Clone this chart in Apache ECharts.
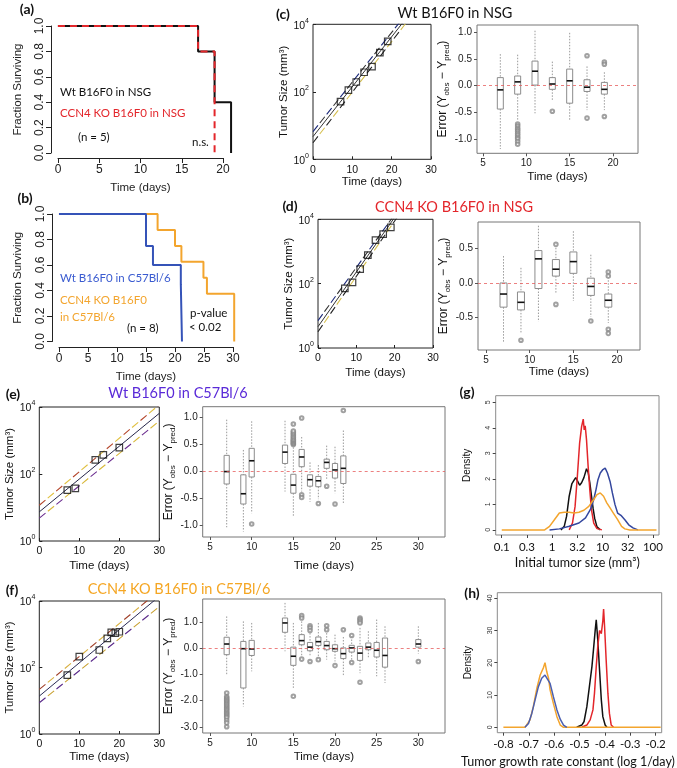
<!DOCTYPE html>
<html><head><meta charset="utf-8">
<script src="https://cdn.jsdelivr.net/npm/echarts@6/dist/echarts.min.js"></script>
<style>html,body{margin:0;padding:0;background:#fff}#c{width:677px;height:768px}</style>
</head><body><div id="c"></div>
<script>
// ================= DATA =================
// (a) Kaplan-Meier, NSG
const aWtTimes = [0, 17, 19, 21];
const aWtSurv  = [1, 0.8, 0.4, 0];
const aKoTimes = [0, 17, 19];
const aKoSurv  = [1, 0.8, 0];
// (b) Kaplan-Meier, C57Bl/6
const bWtTimes = [0, 15, 16.2, 21, 21.2];
const bWtSurv  = [1, 0.75, 0.6, 0.45, 0];
const bKoTimes = [0, 17, 20, 21.1, 24.9, 25.5, 30.2];
const bKoSurv  = [1, 0.875, 0.75, 0.625, 0.5, 0.375, 0];

// (c) Wt B16F0 in NSG: observed sizes (mm3) and fit lines [day, size]
const cDays = [7, 9, 11, 13, 15, 17, 19];
const cSize = [51, 112, 195, 380, 560, 1440, 3100];
const cFitMid = [[0, 4.7], [30, 129000]];
const cFitUp  = [[0, 6.6], [30, 170000]];
const cFitLo  = [[0, 3.1], [30, 98000]];
const cErrDays = [7, 9, 11, 13, 15, 17, 19];
const cErrLo  = [-1.19, -0.64, -0.52, -0.29, -0.66, -0.46, -0.46];
const cErrQ1  = [-0.44, -0.16, 0.01, -0.07, -0.33, -0.11, -0.16];
const cErrMed = [-0.08, 0.07, 0.27, 0.03, 0.09, -0.03, -0.07];
const cErrQ3  = [0.15, 0.18, 0.46, 0.15, 0.31, 0.11, 0.06];
const cErrHi  = [0.59, 0.58, 1.03, 0.45, 0.99, 0.36, 0.25];
const cOutDays = [9, 9, 9, 9, 9, 9, 9, 9, 9, 9, 9, 13, 17, 17, 19, 19, 19];
const cOutVals = [-0.72, -0.76, -0.8, -0.83, -0.86, -0.9, -0.93, -0.97, -1.0, -1.05, -1.1, -0.48, 0.56, -0.61, 0.44, 0.4, -0.58];

// (d) CCN4 KO B16F0 in NSG
const dDays = [7, 9, 11, 13, 15, 17, 19];
const dSize = [71, 110, 283, 770, 2250, 3470, 5600];
const dFitMid = [[0, 4.6], [30, 575000]];
const dFitUp  = [[0, 7.1], [30, 631000]];
const dFitLo  = [[0, 3.2], [30, 468000]];
const dErrDays = [7, 9, 11, 13, 15, 17, 19];
const dErrLo  = [-0.87, -0.72, -0.56, -0.14, -0.26, -0.49, -0.58];
const dErrQ1  = [-0.35, -0.39, -0.08, 0.10, 0.14, -0.18, -0.35];
const dErrMed = [-0.16, -0.28, 0.35, 0.20, 0.31, -0.05, -0.25];
const dErrQ3  = [0.0, -0.13, 0.47, 0.34, 0.45, 0.07, -0.16];
const dErrHi  = [0.39, 0.22, 0.83, 0.51, 0.75, 0.41, 0.04];
const dOutDays = [9, 13, 13, 17, 19, 19, 19, 19];
const dOutVals = [-0.83, 0.56, -0.31, -0.55, 0.16, 0.1, -0.67, -0.73];

// (e) Wt B16F0 in C57Bl/6
const eDays = [7, 9, 14, 16, 20];
const eSize = [33, 37, 263, 370, 615];
const eFitMid = [[0, 7.4], [30, 6460]];
const eFitUp  = [[0, 11.7], [30, 11700]];
const eFitLo  = [[0, 4.8], [30, 3800]];
const eErrDays = [7, 9, 10, 14, 15, 16, 17, 18, 19, 20, 21];
const eErrLo  = [-1.03, -1.11, -0.77, -0.37, -0.82, -0.37, -0.56, -0.51, -0.15, -0.40, -0.59];
const eErrQ1  = [-0.23, -0.60, -0.10, 0.15, -0.40, 0.09, -0.27, -0.28, 0.06, -0.12, -0.22];
const eErrMed = [0.0, -0.41, 0.20, 0.36, -0.25, 0.27, -0.15, -0.17, 0.17, 0.03, 0.06];
const eErrQ3  = [0.30, -0.06, 0.43, 0.49, -0.05, 0.41, -0.06, -0.09, 0.23, 0.15, 0.29];
const eErrHi  = [0.96, 0.40, 0.93, 0.94, 0.45, 0.64, 0.17, 0.12, 0.48, 0.46, 0.76];
const eOutDays = [10, 15, 15, 15, 15, 15, 15, 15, 15, 15, 15, 15, 15, 16, 16, 16, 18, 19, 20, 21];
const eOutVals = [-0.97, 0.5, 0.52, 0.54, 0.56, 0.58, 0.6, 0.63, 0.66, 0.69, 0.72, 0.75, 0.88, 0.99, -0.43, -0.48, -0.59, -0.27, -0.6, 1.13];

// (f) CCN4 KO B16F0 in C57Bl/6
const fDays = [7, 10, 15, 17, 18, 19, 20];
const fSize = [59, 211, 336, 755, 1140, 1070, 1190];
const fFitMid = [[0, 13.8], [30, 13800]];
const fFitUp  = [[0, 21.9], [30, 20400]];
const fFitLo  = [[0, 8.7], [30, 6760]];
const fErrDays = [7, 9, 10, 14, 15, 16, 17, 18, 19, 20, 21, 22, 23, 24, 25, 26, 30];
const fErrLo  = [-1.0, -2.22, -0.87, -0.10, -1.55, -0.29, -0.29, -0.29, -0.42, -0.49, -1.06, -0.42, -0.94, -0.36, -1.06, -1.32, -0.19];
const fErrQ1  = [-0.23, -1.51, -0.26, 0.63, -0.64, 0.15, -0.08, 0.12, -0.04, -0.10, -0.38, -0.13, -0.45, -0.04, -0.32, -0.71, 0.06];
const fErrMed = [0.18, 0.0, -0.01, 0.99, -0.29, 0.31, 0.06, 0.27, 0.12, 0.0, -0.19, 0.03, -0.17, 0.06, -0.06, -0.26, 0.18];
const fErrQ3  = [0.44, 0.28, 0.32, 1.18, 0.06, 0.54, 0.24, 0.45, 0.28, 0.15, 0.03, 0.13, 0.09, 0.22, 0.24, 0.41, 0.35];
const fErrHi  = [1.24, 1.05, 0.99, 1.76, 0.99, 1.05, 0.6, 0.99, 0.6, 0.54, 0.45, 0.47, 0.8, 0.67, 1.12, 0.86, 0.86];
const fOutDays = [7,7,7,7,7,7,7,7,7,7,7,7,7,7,7,7,7,7,7,7,7, 15, 16,16,16, 17,17,17,17, 18, 19,19, 20, 21, 22,22, 23,23,23,23,23, 30];
const fOutVals = [-1.7,-1.85,-1.9,-1.95,-2.0,-2.05,-2.1,-2.15,-2.2,-2.25,-2.3,-2.35,-2.4,-2.45,-2.5,-2.55,-2.6,-2.65,-2.75,-2.85,-3.0,
  -1.83, 1.27,1.18,-0.4, 0.88,0.8,0.7,-0.49, -0.42, 0.88,0.73, -0.65, 0.73, -0.53,0.51, 1.18,1.12,1.05,0.99,-1.29, -0.49];

// (g) initial tumor size densities (x = log10 mm3)
const gTickPos = [-1, -0.5, 0, 0.5, 1, 1.5, 2];
const gTickLabels = ['0.1', '0.3', '1', '3.2', '10', '32', '100'];
const gBlackX = [0.175, 0.24, 0.286, 0.338, 0.39, 0.435, 0.468, 0.5, 0.545, 0.584, 0.63, 0.682, 0.714, 0.747, 0.779, 0.812, 0.844, 0.89, 0.955];
const gBlackY = [0, 0.14, 0.53, 1.32, 1.8, 1.95, 2.05, 1.93, 1.75, 1.85, 2.05, 2.4, 2.25, 1.85, 1.35, 0.85, 0.45, 0.12, 0];
const gRedX = [0.338, 0.403, 0.455, 0.5, 0.545, 0.584, 0.617, 0.636, 0.656, 0.682, 0.714, 0.747, 0.779, 0.825, 0.89, 0.987];
const gRedY = [0, 0.27, 0.92, 2.1, 3.4, 4.05, 4.34, 3.92, 4.08, 3.53, 2.49, 1.58, 0.8, 0.27, 0.05, 0];
const gBlueX = [-0.052, 0.143, 0.338, 0.532, 0.662, 0.76, 0.825, 0.87, 0.909, 0.955, 1.0, 1.052, 1.097, 1.149, 1.195, 1.247, 1.299, 1.364, 1.442, 1.519, 1.604, 1.701];
const gBlueY = [0, 0.04, 0.14, 0.27, 0.47, 0.8, 1.19, 1.58, 1.97, 2.23, 2.35, 2.42, 2.23, 1.9, 1.45, 0.99, 0.66, 0.57, 0.4, 0.2, 0.08, 0];
const gOrangeX = [-1.0, -0.149, -0.052, 0.045, 0.143, 0.24, 0.338, 0.435, 0.532, 0.63, 0.727, 0.825, 0.89, 0.955, 1.02, 1.084, 1.149, 1.214, 1.299, 1.377, 1.442, 1.539, 2.07];
const gOrangeY = [0, 0, 0.14, 0.4, 0.66, 0.69, 0.69, 0.66, 0.69, 0.77, 0.92, 1.19, 1.38, 1.45, 1.32, 1.06, 0.86, 0.66, 0.4, 0.14, 0.04, 0, 0];

// (h) growth rate constant densities
const hTickPos = [-0.8, -0.7, -0.6, -0.5, -0.4, -0.3, -0.2];
const hOrangeX = [-0.8, -0.715, -0.708, -0.695, -0.682, -0.668, -0.655, -0.642, -0.636, -0.629, -0.622, -0.616, -0.603, -0.589, -0.576, -0.563, -0.18];
const hOrangeY = [0, 0, 0.4, 2.3, 6.4, 12.1, 16.2, 18.5, 20.0, 17.2, 15.2, 11.6, 7.4, 3.3, 0.7, 0, 0];
const hBlueX = [-0.715, -0.701, -0.688, -0.675, -0.662, -0.649, -0.636, -0.632, -0.616, -0.603, -0.589, -0.576, -0.563, -0.55];
const hBlueY = [0, 1.2, 4.3, 8.5, 12.6, 15.2, 16.2, 16.5, 13.6, 9.5, 5.4, 2.5, 0.7, 0];
const hBlackX = [-0.511, -0.491, -0.482, -0.471, -0.461, -0.451, -0.445, -0.438, -0.434, -0.428, -0.421, -0.414, -0.408, -0.399, -0.392];
const hBlackY = [0, 0.7, 1.8, 6.4, 12.6, 18.8, 24.0, 30.2, 33.3, 27.1, 17.8, 8.5, 3.3, 0.7, 0];
const hRedX = [-0.491, -0.471, -0.458, -0.447, -0.441, -0.434, -0.428, -0.421, -0.414, -0.408, -0.405, -0.401, -0.395, -0.388, -0.382, -0.375, -0.366];
const hRedY = [0, 0.7, 2.3, 5.4, 10.5, 18.8, 25, 30, 29, 33, 36.6, 31, 21, 10.5, 4.3, 0.7, 0];

// ================= BUILD =================
const FH = '"Liberation Sans", Arial, Helvetica, sans-serif';
const FC = 'Lato, "Open Sans", sans-serif';
const RED = '#e3262b', BLUE = '#3553b8', ORANGE = '#f3a52e', NAVY = '#34479e';

const grids = [], xAxes = [], yAxes = [], series = [], graphics = [];
function addGrid(rect, xa, ya) {
  const i = grids.length;
  grids.push(Object.assign({ outerBoundsMode: 'none', containLabel: false, show: false }, rect));
  const noZero = a => { a.axisLine = Object.assign({ show: false }, a.axisLine || {}, { onZero: false }); return a; };
  xAxes.push(noZero(Object.assign({ gridIndex: i, type: 'value', splitLine: { show: false } }, xa)));
  yAxes.push(noZero(Object.assign({ gridIndex: i, type: 'value', splitLine: { show: false } }, ya)));
  return i;
}
const hidden = (min, max) => ({ show: false, min: min, max: max });
const zip = (a, b) => a.map((v, i) => [v, b[i]]);
const logPts = arr => arr.map(p => [p[0], Math.log10(p[1])]);

// ---------- R-style survival panels ----------
const rLine = { show: true, lineStyle: { color: '#222', width: 1 } };
const rTick = { show: true, length: 5, lineStyle: { color: '#222', width: 1 } };
function survY(gap) {
  return { min: 0, max: 1, interval: 0.2, name: 'Fraction Surviving', nameLocation: 'middle', nameGap: gap,
    nameTextStyle: { fontFamily: FH, fontSize: 11.5, color: '#222' },
    axisLine: rLine, axisTick: rTick,
    axisLabel: { rotate: 90, fontFamily: FH, fontSize: 12, color: '#222', margin: 5, formatter: v => v.toFixed(1) } };
}
function survX(max, gap) {
  return { min: 0, max: max, interval: 5, name: 'Time (days)', nameLocation: 'middle', nameGap: gap,
    nameTextStyle: { fontFamily: FH, fontSize: 11.5, color: '#222' },
    axisLine: rLine, axisTick: rTick, axisLabel: { fontFamily: FH, fontSize: 12, color: '#222', margin: 6 } };
}
const aG = addGrid({ left: 51, top: 26, width: 187, height: 127 }, hidden(-0.84, 21.84), survY(27));
addGrid({ left: 58, top: 21, width: 165, height: 137 }, survX(20, 24), hidden(0, 1));
const bG = addGrid({ left: 52, top: 214, width: 188, height: 127.5 }, hidden(-1.2, 31.2), survY(28));
addGrid({ left: 59, top: 209, width: 174, height: 138 }, survX(30, 24), hidden(0, 1));

function km(g, t, s, color, dash) {
  series.push({ type: 'line', xAxisIndex: g, yAxisIndex: g, data: zip(t, s), step: 'end', symbol: 'none', clip: false,
    lineStyle: { color: color, width: 2, type: dash || 'solid' }, z: 3 });
}
km(aG, aWtTimes, aWtSurv, '#111');
km(aG, aKoTimes, aKoSurv, RED, [7, 5]);
km(bG, bKoTimes, bKoSurv, ORANGE);
km(bG, bWtTimes, bWtSurv, BLUE);

// ---------- MATLAB-style growth panels ----------
function growthGrid(rect, gapX, gapY) {
  const tick = { show: true, inside: true, length: 3, lineStyle: { color: '#222' } };
  return addGrid(Object.assign({ show: true, borderColor: '#222', borderWidth: 1, backgroundColor: 'transparent' }, rect),
    { min: 0, max: 30, interval: 10, name: 'Time (days)', nameLocation: 'middle', nameGap: gapX,
      nameTextStyle: { fontFamily: FH, fontSize: 11.5, color: '#111' },
      axisTick: tick, axisLabel: { fontFamily: FH, fontSize: 10.5, color: '#111', margin: 5 } },
    { min: 0, max: 4, interval: 2, name: 'Tumor Size (mm³)', nameLocation: 'middle', nameGap: gapY,
      nameTextStyle: { fontFamily: FH, fontSize: 11.5, color: '#111' },
      axisTick: tick,
      axisLabel: { margin: 4, formatter: v => '{b|10}{p|' + v + '}',
        rich: { b: { fontFamily: FH, fontSize: 10.5, color: '#111', lineHeight: 14, verticalAlign: 'bottom' },
                p: { fontFamily: FH, fontSize: 7, color: '#111', lineHeight: 14, verticalAlign: 'top' } } } });
}
function dashPair(g, pts, c1, c2) {
  const d = logPts(pts);
  series.push({ type: 'line', xAxisIndex: g, yAxisIndex: g, data: d, symbol: 'none', z: 2,
    lineStyle: { color: c1, width: 1.1, type: [8, 14], dashOffset: 0 } });
  series.push({ type: 'line', xAxisIndex: g, yAxisIndex: g, data: d, symbol: 'none', z: 2,
    lineStyle: { color: c2, width: 1.1, type: [8, 14], dashOffset: 11 } });
}
function growth(g, days, size, mid, up, lo, cols) {
  series.push({ type: 'line', xAxisIndex: g, yAxisIndex: g, data: logPts(mid), symbol: 'none', z: 2,
    lineStyle: { color: cols.mid, width: 1 } });
  dashPair(g, up, cols.up1, cols.up2);
  dashPair(g, lo, cols.lo1, cols.lo2);
  series.push({ type: 'scatter', xAxisIndex: g, yAxisIndex: g, data: days.map((d, i) => [d, Math.log10(size[i])]),
    symbol: 'rect', symbolSize: 6.5, z: 4, itemStyle: { color: 'rgba(255,255,255,0)', borderColor: '#111', borderWidth: 1.2 } });
}
const cL = growthGrid({ left: 313, top: 24.3, width: 118, height: 135 }, 17, 22);
growth(cL, cDays, cSize, cFitMid, cFitUp, cFitLo, { mid: '#333', up1: '#1c2a7a', up2: '#333', lo1: '#222', lo2: '#d6c050' });
const dL = growthGrid({ left: 318, top: 219.3, width: 115, height: 128.7 }, 19, 22);
growth(dL, dDays, dSize, dFitMid, dFitUp, dFitLo, { mid: '#333', up1: '#1c2a7a', up2: '#333', lo1: '#222', lo2: '#d6c050' });
const eL = growthGrid({ left: 39.3, top: 407, width: 120, height: 134 }, 19, 20);
growth(eL, eDays, eSize, eFitMid, eFitUp, eFitLo, { mid: '#26264a', up1: '#b4452a', up2: '#e0c040', lo1: '#6b2d8f', lo2: '#d8b83a' });
const fL = growthGrid({ left: 39.3, top: 601, width: 120, height: 133 }, 17, 20);
growth(fL, fDays, fSize, fFitMid, fFitUp, fFitLo, { mid: '#2a2a55', up1: '#a0402a', up2: '#d8b040', lo1: '#5a2a8a', lo2: '#c8a030' });

// ---------- error box-plot panels ----------
function errGrid(rect, xmin, xmax, xticks, ymin, ymax, yticks, gapX, gapY) {
  const tl = { color: '#555', width: 1 };
  return addGrid(Object.assign({ show: true, borderColor: '#777', borderWidth: 1 }, rect),
    { min: xmin, max: xmax, name: 'Time (days)', nameLocation: 'middle', nameGap: gapX,
      nameTextStyle: { fontFamily: FH, fontSize: 11.5, color: '#111' },
      axisTick: { show: true, length: 3, customValues: xticks, lineStyle: tl },
      axisLabel: { customValues: xticks, fontFamily: FH, fontSize: 10, color: '#222', margin: 5 } },
    { min: ymin, max: ymax, name: '{n|Error (Y}{s|obs}{n| − Y}{s|pred}{n|)}', nameLocation: 'middle', nameGap: gapY,
      nameTextStyle: { rich: { n: { fontFamily: FH, fontSize: 12, color: '#111', lineHeight: 16, verticalAlign: 'middle' },
                                s: { fontFamily: FH, fontSize: 8, color: '#111', lineHeight: 16, verticalAlign: 'bottom' } } },
      axisTick: { show: true, length: 3, customValues: yticks, lineStyle: tl },
      axisLabel: { customValues: yticks, fontFamily: FH, fontSize: 10, color: '#222', margin: 5, formatter: v => v.toFixed(1) } });
}
function boxes(g, days, lo, q1, med, q3, hi, halfW, outD, outV) {
  series.push({ type: 'scatter', xAxisIndex: g, yAxisIndex: g, data: zip(outD, outV), symbol: 'emptyCircle', symbolSize: 3.6, z: 2,
    itemStyle: { color: '#8a8a8a', borderWidth: 0.8 },
    markLine: { silent: true, symbol: 'none', label: { show: false }, lineStyle: { color: '#e65555', type: [3, 3], width: 1, opacity: 0.75 }, data: [{ yAxis: 0 }] } });
  series.push({ type: 'custom', xAxisIndex: g, yAxisIndex: g, z: 3,
    data: days.map((d, i) => [d, lo[i], q1[i], med[i], q3[i], hi[i]]),
    encode: { x: 0, y: [1, 2, 3, 4, 5] },
    renderItem: function (params, api) {
      const x = api.value(0);
      const pLo = api.coord([x, api.value(1)]), pQ1 = api.coord([x, api.value(2)]), pMed = api.coord([x, api.value(3)]),
            pQ3 = api.coord([x, api.value(4)]), pHi = api.coord([x, api.value(5)]);
      const cx = pMed[0];
      const wStyle = { stroke: '#9a9a9a', lineWidth: 1, lineDash: [1.5, 1.5], fill: null };
      return { type: 'group', children: [
        { type: 'line', shape: { x1: cx, y1: pHi[1], x2: cx, y2: pQ3[1] }, style: wStyle },
        { type: 'line', shape: { x1: cx, y1: pQ1[1], x2: cx, y2: pLo[1] }, style: wStyle },
        { type: 'rect', shape: { x: cx - halfW, y: pQ3[1], width: 2 * halfW, height: pQ1[1] - pQ3[1] },
          style: { stroke: '#8c8c8c', lineWidth: 1, fill: 'rgba(255,255,255,0)' } },
        { type: 'line', shape: { x1: cx - halfW, y1: pMed[1], x2: cx + halfW, y2: pMed[1] }, style: { stroke: '#111', lineWidth: 1.6 } }
      ] };
    } });
}
const yt1 = [-1, -0.5, 0, 0.5, 1];
const cR = errGrid({ left: 477, top: 25, width: 161, height: 128.3 }, 4.31, 22.88, [5, 10, 15, 20], -1.27, 1.137, yt1, 18, 23);
boxes(cR, cErrDays, cErrLo, cErrQ1, cErrMed, cErrQ3, cErrHi, 3, cOutDays, cOutVals);
const dR = errGrid({ left: 478, top: 222, width: 162, height: 128 }, 4.08, 22.63, [5, 10, 15, 20], -0.971, 0.884, [-0.5, 0, 0.5], 16, 22);
boxes(dR, dErrDays, dErrLo, dErrQ1, dErrMed, dErrQ3, dErrHi, 3.5, dOutDays, dOutVals);
const eR = errGrid({ left: 202.7, top: 406.7, width: 242.3, height: 130.3 }, 4.12, 33.2, [5, 10, 15, 20, 25, 30], -1.21, 1.2, yt1, 23, 23.5);
boxes(eR, eErrDays, eErrLo, eErrQ1, eErrMed, eErrQ3, eErrHi, 2.6, eOutDays, eOutVals);
const fR = errGrid({ left: 202.7, top: 599, width: 242.3, height: 134 }, 4.12, 33.2, [5, 10, 15, 20, 25, 30], -3.24, 1.91, [-3, -2, -1, 0, 1], 18, 23.5);
boxes(fR, fErrDays, fErrLo, fErrQ1, fErrMed, fErrQ3, fErrHi, 2.6, fOutDays, fOutVals);

// ---------- density panels ----------
function densGrid(rect, xmin, xmax, xticks, xfmt, xname, gapX, ymin, ymax, yticks, gapY) {
  const tl = { color: '#444', width: 1 };
  return addGrid(Object.assign({ show: true, borderColor: '#8a8a8a', borderWidth: 1 }, rect),
    { min: xmin, max: xmax, name: xname, nameLocation: 'middle', nameGap: gapX,
      nameTextStyle: { fontFamily: FC, fontSize: 12.5, color: '#111' },
      axisTick: { show: true, length: 3, customValues: xticks, lineStyle: tl },
      axisLabel: { customValues: xticks, formatter: xfmt, fontFamily: FC, fontSize: 11.5, color: '#111', margin: 6 } },
    { min: ymin, max: ymax, name: 'Density', nameLocation: 'middle', nameGap: gapY,
      nameTextStyle: { fontFamily: FH, fontSize: 10, color: '#111' },
      axisTick: { show: true, length: 3, customValues: yticks, lineStyle: tl },
      axisLabel: { customValues: yticks, rotate: 90, fontFamily: FH, fontSize: 7, color: '#333', margin: 4 } });
}
function dens(g, xs, ys, color) {
  series.push({ type: 'line', xAxisIndex: g, yAxisIndex: g, data: zip(xs, ys), symbol: 'none', z: 3,
    lineStyle: { color: color, width: 1.5 } });
}
const gG = densGrid({ left: 495.7, top: 395.7, width: 163.3, height: 139.3 }, -1.12, 2.12, gTickPos,
  v => { const i = gTickPos.findIndex(t => Math.abs(t - v) < 1e-6); return i >= 0 ? gTickLabels[i] : ''; },
  'Initial tumor size (mm³)', 21, -0.2, 5.26, [0, 1, 2, 3, 4, 5], 23);
dens(gG, gBlackX, gBlackY, '#111');
dens(gG, gRedX, gRedY, RED);
dens(gG, gBlueX, gBlueY, NAVY);
dens(gG, gOrangeX, gOrangeY, ORANGE);
const hG = densGrid({ left: 497.3, top: 592.7, width: 164.4, height: 140 }, -0.824, -0.176, hTickPos,
  v => v.toFixed(1), '', 22, -1.67, 41.7, [0, 10, 20, 30, 40], 24);
dens(hG, hBlackX, hBlackY, '#111');
dens(hG, hRedX, hRedY, RED);
dens(hG, hOrangeX, hOrangeY, ORANGE);
dens(hG, hBlueX, hBlueY, '#4a5fb0');

// ---------- free text ----------
function txt(x, y, s, o) {
  graphics.push({ type: 'text', x: x, y: y, silent: true, style: Object.assign({ text: s, fill: '#111', fontFamily: FC, fontSize: 11.5,
    align: 'left', verticalAlign: 'middle' }, o || {}) });
}
const lab = { fontSize: 14, fontWeight: 'bold', align: 'center' };
txt(27, 9, '(a)', lab); txt(25, 198, '(b)', lab); txt(283, 14, '(c)', lab); txt(290, 206, '(d)', lab);
txt(13, 394, '(e)', lab); txt(12, 590, '(f)', lab); txt(467, 392, '(g)', lab); txt(472, 593, '(h)', lab);
const ttl = { fontSize: 14.5, align: 'center' };
txt(455, 13, 'Wt B16F0 in NSG', ttl);
txt(454, 207, 'CCN4 KO B16F0 in NSG', Object.assign({ fill: RED }, ttl));
txt(178, 393, 'Wt B16F0 in C57Bl/6', Object.assign({ fill: '#5a2ad8' }, ttl));
txt(179, 589, 'CCN4 KO B16F0 in C57Bl/6', Object.assign({ fill: '#f5a623' }, ttl));
txt(568, 762, 'Tumor growth rate constant (log 1/day)', { fontSize: 12.5, align: 'center' });
txt(60, 92, 'Wt B16F0 in NSG');
txt(60, 113, 'CCN4 KO B16F0 in NSG', { fill: RED });
txt(78, 137, '(n = 5)');
txt(192, 142, 'n.s.');
txt(60, 278, 'Wt B16F0 in C57Bl/6', { fill: '#3a5bd0' });
txt(60, 300, 'CCN4 KO B16F0', { fill: ORANGE });
txt(60, 317, 'in C57Bl/6', { fill: ORANGE });
txt(127, 328, '(n = 8)');
txt(190, 313, 'p-value');
txt(189, 327, '< 0.02');

const chart = echarts.init(document.getElementById('c'), null, { renderer: 'canvas' });
chart.setOption({ animation: false, backgroundColor: '#fff', grid: grids, xAxis: xAxes, yAxis: yAxes, series: series, graphic: graphics });
</script></body></html>
